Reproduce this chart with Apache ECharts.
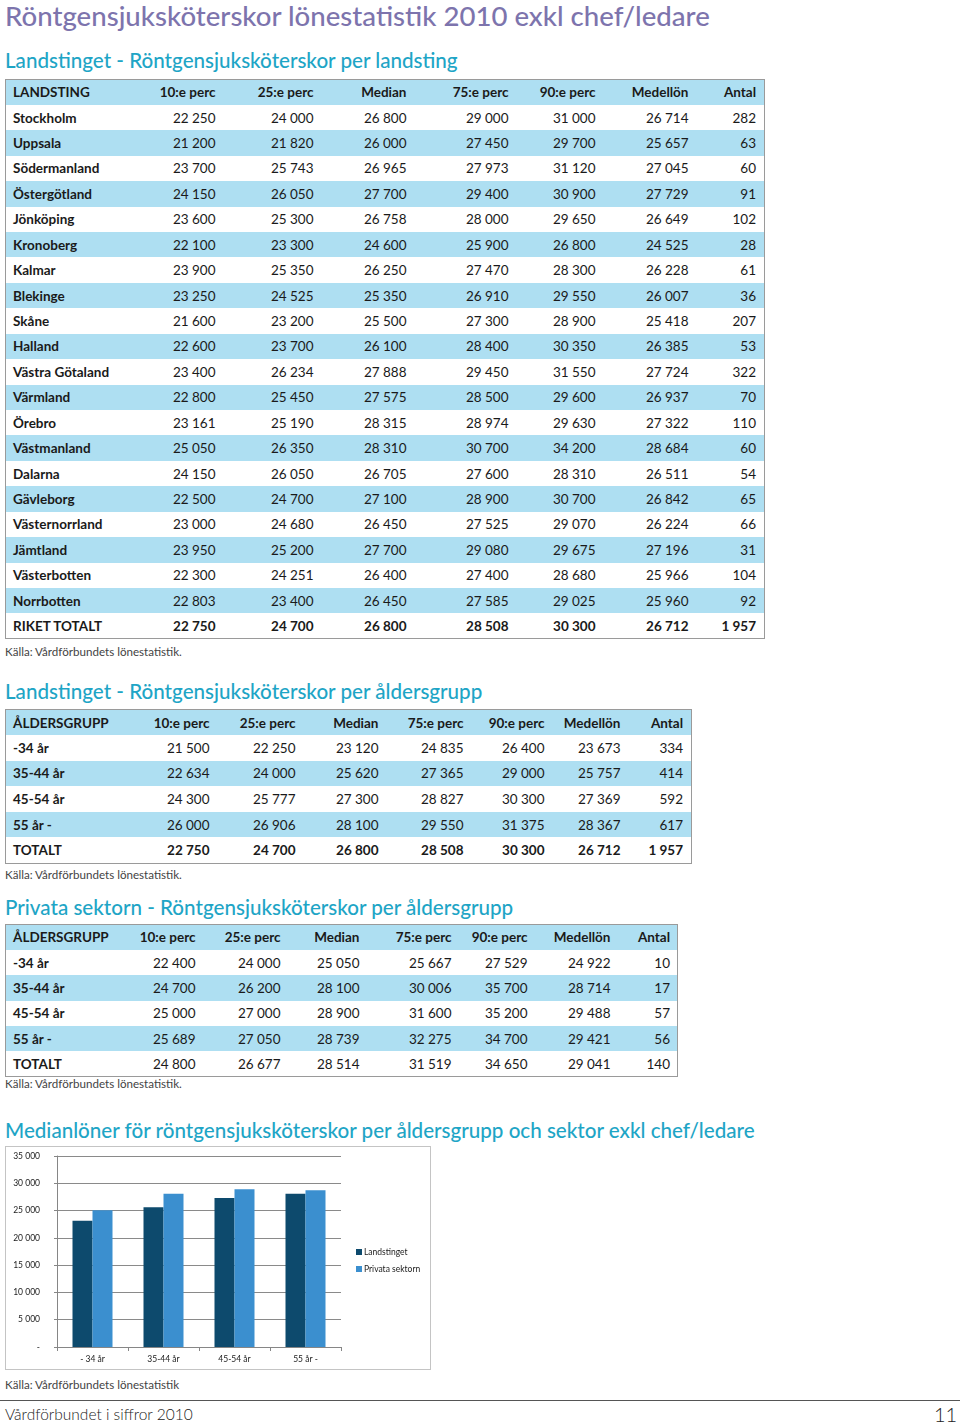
<!DOCTYPE html>
<html>
<head>
<meta charset="utf-8">
<script src="https://cdn.jsdelivr.net/npm/echarts@6/dist/echarts.min.js"></script>
<style>
  html, body { margin: 0; padding: 0; background: #fff; }
  body { width: 960px; height: 1427px; position: relative; overflow: hidden; font-family: Lato, "Open Sans", sans-serif; color: #1a1a1a; }
  .abs { position: absolute; white-space: nowrap; }
  .title { left: 5px; top: -1px; font-size: 27.6px; color: #7d74ad; font-weight: 500; }
  .sect { left: 5px; font-size: 20.6px; color: #1ea5c6; font-weight: 500; }
  .src { left: 5px; font-size: 11.6px; color: #444; }
  table.t { position: absolute; left: 5px; border-collapse: collapse; table-layout: fixed; border: 1.5px solid #9a9a9a; box-sizing: border-box; font-size: 13.5px; }
  table.t td { padding: 0; text-align: right; white-space: nowrap; overflow: visible; }
  table.t td.lab { text-align: left; padding-left: 7px; font-weight: 700; }
  table.t tr.hd td { font-weight: 700; }
  table.t tr.blue td { background: #aedff2; }
  table.t tr.bold td { font-weight: 700; }
  #chartBox { position: absolute; left: 5px; top: 1146px; width: 426px; height: 224px; border: 1px solid #c4c4c4; box-sizing: border-box; }
  #chart { width: 100%; height: 100%; }
  .footline { position: absolute; left: 0; top: 1400px; width: 960px; height: 1px; background: #555; }
</style>
</head>
<body>
<div class="abs title">Röntgensjuksköterskor lönestatistik 2010 exkl chef/ledare</div>
<div class="abs sect" style="top:48px">Landstinget - Röntgensjuksköterskor per landsting</div>
<div id="t1"></div>
<div class="abs src" style="top:645px">Källa: Vårdförbundets lönestatistik.</div>
<div class="abs sect" style="top:679px">Landstinget - Röntgensjuksköterskor per åldersgrupp</div>
<div id="t2"></div>
<div class="abs src" style="top:868px">Källa: Vårdförbundets lönestatistik.</div>
<div class="abs sect" style="top:895px">Privata sektorn - Röntgensjuksköterskor per åldersgrupp</div>
<div id="t3"></div>
<div class="abs src" style="top:1077px">Källa: Vårdförbundets lönestatistik.</div>
<div class="abs sect" style="top:1118px">Medianlöner för röntgensjuksköterskor per åldersgrupp och sektor exkl chef/ledare</div>
<div id="chartBox"><div id="chart"></div></div>
<div class="abs src" style="top:1378px">Källa: Vårdförbundets lönestatistik</div>
<div class="footline"></div>
<div class="abs" style="left:5px; top:1405px; font-size:15.5px; line-height:19px; font-weight:300; color:#222;">Vårdförbundet i siffror 2010</div>
<div class="abs" style="left:934px; top:1403px; font-size:20px; line-height:22px; font-weight:300; color:#222;">11</div>

<script>
// ---------- Data ----------
const colHeaders = ["10:e perc", "25:e perc", "Median", "75:e perc", "90:e perc", "Medellön", "Antal"];

// Table 1: Landstinget per landsting
const regions = ["Stockholm","Uppsala","Södermanland","Östergötland","Jönköping","Kronoberg","Kalmar","Blekinge","Skåne","Halland","Västra Götaland","Värmland","Örebro","Västmanland","Dalarna","Gävleborg","Västernorrland","Jämtland","Västerbotten","Norrbotten","RIKET TOTALT"];
const reg_p10 = [22250,21200,23700,24150,23600,22100,23900,23250,21600,22600,23400,22800,23161,25050,24150,22500,23000,23950,22300,22803,22750];
const reg_p25 = [24000,21820,25743,26050,25300,23300,25350,24525,23200,23700,26234,25450,25190,26350,26050,24700,24680,25200,24251,23400,24700];
const reg_median = [26800,26000,26965,27700,26758,24600,26250,25350,25500,26100,27888,27575,28315,28310,26705,27100,26450,27700,26400,26450,26800];
const reg_p75 = [29000,27450,27973,29400,28000,25900,27470,26910,27300,28400,29450,28500,28974,30700,27600,28900,27525,29080,27400,27585,28508];
const reg_p90 = [31000,29700,31120,30900,29650,26800,28300,29550,28900,30350,31550,29600,29630,34200,28310,30700,29070,29675,28680,29025,30300];
const reg_mean = [26714,25657,27045,27729,26649,24525,26228,26007,25418,26385,27724,26937,27322,28684,26511,26842,26224,27196,25966,25960,26712];
const reg_count = [282,63,60,91,102,28,61,36,207,53,322,70,110,60,54,65,66,31,104,92,1957];

// Table 2: Landstinget per åldersgrupp
const ageGroups = ["-34 år","35-44 år","45-54 år","55 år -","TOTALT"];
const ls_p10 = [21500,22634,24300,26000,22750];
const ls_p25 = [22250,24000,25777,26906,24700];
const ls_median = [23120,25620,27300,28100,26800];
const ls_p75 = [24835,27365,28827,29550,28508];
const ls_p90 = [26400,29000,30300,31375,30300];
const ls_mean = [23673,25757,27369,28367,26712];
const ls_count = [334,414,592,617,1957];

// Table 3: Privata sektorn per åldersgrupp
const pv_p10 = [22400,24700,25000,25689,24800];
const pv_p25 = [24000,26200,27000,27050,26677];
const pv_median = [25050,28100,28900,28739,28514];
const pv_p75 = [25667,30006,31600,32275,31519];
const pv_p90 = [27529,35700,35200,34700,34650];
const pv_mean = [24922,28714,29488,29421,29041];
const pv_count = [10,17,57,56,140];

// Chart
const chartCategories = ["- 34 år","35-44 år","45-54 år","55 år -"];
const seriesNames = ["Landstinget","Privata sektorn"];
const yTickLabels = ["-","5 000","10 000","15 000","20 000","25 000","30 000","35 000"];

// ---------- Helpers ----------
function fmt(n) { return String(n).replace(/\B(?=(\d{3})+(?!\d))/g, "\u00a0"); }

function buildTable(id, cfg) {
  const t = document.createElement("table");
  t.className = "t";
  t.style.top = cfg.top + "px";
  t.style.width = cfg.width + "px";
  const cg = document.createElement("colgroup");
  cfg.widths.forEach(w => { const c = document.createElement("col"); c.style.width = w + "px"; cg.appendChild(c); });
  t.appendChild(cg);
  const mkRow = (cells, cls) => {
    const tr = document.createElement("tr");
    tr.className = cls;
    tr.style.height = cfg.rowH + "px";
    cells.forEach((v, i) => {
      const td = document.createElement("td");
      if (i === 0) td.className = "lab";
      td.textContent = v;
      if (i === cells.length - 1) td.style.paddingRight = cfg.padR + "px";
      tr.appendChild(td);
    });
    t.appendChild(tr);
  };
  mkRow([cfg.firstHeader].concat(colHeaders), "hd blue");
  cfg.labels.forEach((lab, r) => {
    const vals = cfg.cols.map(c => fmt(c[r]));
    let cls = (r % 2 === 1) ? "blue" : "";
    if (cfg.boldLast && r === cfg.labels.length - 1) cls += " bold";
    mkRow([lab].concat(vals), cls);
  });
  document.getElementById(id).appendChild(t);
}

buildTable("t1", { top: 79, width: 759, rowH: 25.43, padR: 8, firstHeader: "LANDSTING", boldLast: true,
  widths: [120, 90, 98, 93, 102, 87, 93, 76], labels: regions,
  cols: [reg_p10, reg_p25, reg_median, reg_p75, reg_p90, reg_mean, reg_count] });
buildTable("t2", { top: 709, width: 686, rowH: 25.6, padR: 8, firstHeader: "ÅLDERSGRUPP", boldLast: true,
  widths: [120, 84, 86, 83, 85, 81, 76, 71], labels: ageGroups,
  cols: [ls_p10, ls_p25, ls_median, ls_p75, ls_p90, ls_mean, ls_count] });
buildTable("t3", { top: 924, width: 672, rowH: 25.4, padR: 7, firstHeader: "ÅLDERSGRUPP", boldLast: false,
  widths: [120, 70, 85, 79, 92, 76, 83, 67], labels: ageGroups,
  cols: [pv_p10, pv_p25, pv_median, pv_p75, pv_p90, pv_mean, pv_count] });

// ---------- Chart ----------
const chart = echarts.init(document.getElementById("chart"), null, { renderer: "canvas" });
chart.setOption({
  animation: false,
  backgroundColor: "#fff",
  textStyle: { fontFamily: "Lato, 'Open Sans', sans-serif" },
  grid: { left: 51, top: 9, right: 89, bottom: 22, containLabel: false },
  legend: {
    orient: "vertical", left: 350, top: 100, padding: 0, itemWidth: 6, itemHeight: 6, itemGap: 7,
    icon: "rect", textStyle: { fontSize: 8.5, lineHeight: 10, color: "#222", padding: [0, 0, 0, -3] },
    data: seriesNames
  },
  xAxis: {
    type: "category", data: chartCategories,
    axisLine: { lineStyle: { color: "#868686" } },
    axisTick: { show: true, length: 4, lineStyle: { color: "#868686" } },
    axisLabel: { fontSize: 8.5, color: "#222", margin: 8 }
  },
  yAxis: {
    type: "value", min: 0, max: 35000, interval: 5000,
    axisLine: { show: true, lineStyle: { color: "#868686" } },
    axisTick: { show: true, length: 3, lineStyle: { color: "#868686" } },
    splitLine: { lineStyle: { color: "#8a8a8a" } },
    axisLabel: { fontSize: 8.5, color: "#222", margin: 17,
      formatter: v => yTickLabels[Math.round(v / 5000)] }
  },
  series: [
    { name: seriesNames[0], type: "bar", data: ls_median.slice(0, 4), barWidth: 20, barGap: "0%",
      itemStyle: { color: "#0d4a6d" } },
    { name: seriesNames[1], type: "bar", data: pv_median.slice(0, 4), barWidth: 20,
      itemStyle: { color: "#3b8fcf" } }
  ]
});
</script>
</body>
</html>
